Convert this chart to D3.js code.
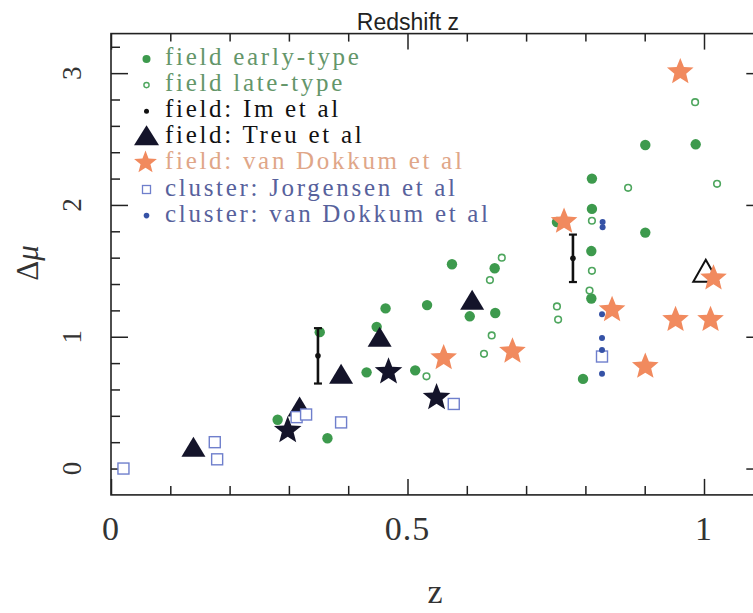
<!DOCTYPE html>
<html><head><meta charset="utf-8">
<script src="https://cdn.jsdelivr.net/npm/d3@7"></script>
<style>body{margin:0;background:#fff;} svg{display:block;}</style>
</head><body>
<svg id="c" width="753" height="613"></svg>
<script>
// ---------- data ----------
const earlyZ  = [0.281,0.352,0.365,0.431,0.448,0.463,0.513,0.533,0.575,0.605,0.647,0.648,0.752,0.796,0.810,0.810,0.811,0.811,0.901,0.901,0.986];
const earlyMu = [0.37, 1.035,0.23, 0.73, 1.075,1.215,0.745,1.24, 1.55, 1.155,1.52, 1.18, 1.87, 0.68, 1.29, 1.65, 1.97, 2.20, 2.455,1.79, 2.46];
const lateZ   = [0.532,0.629,0.639,0.642,0.659,0.752,0.754,0.807,0.811,0.811,0.872,0.985,1.022];
const lateMu  = [0.70, 0.87, 1.43, 1.01, 1.60, 1.23, 1.13, 1.35, 1.50, 1.88, 2.13, 2.78, 2.16];
const imZ     = [0.349,0.779];
const imMu    = [0.855,1.595];
const imErr   = [0.21,0.18];
const treuZ   = [0.139,0.318,0.388,0.453,0.609];
const treuMu  = [0.165,0.47, 0.72, 1.00, 1.28];
const openTriZ  = [1.003];
const openTriMu = [1.50];
const vdkZ    = [0.561,0.677,0.764,0.845,0.901,0.952,0.960,1.011,1.016];
const vdkMu   = [0.85, 0.90, 1.885,1.215,0.785,1.14, 3.02, 1.14, 1.455];
const blackStarZ  = [0.298,0.468,0.549];
const blackStarMu = [0.30, 0.745,0.55];
const jorgZ   = [0.021,0.175,0.179,0.313,0.329,0.388,0.578,0.828];
const jorgMu  = [0.00, 0.20, 0.07, 0.39, 0.41, 0.35, 0.49, 0.85];
const clusZ   = [0.829,0.829,0.828,0.828,0.828,0.828];
const clusMu  = [1.87, 1.83, 1.17, 0.99, 0.90, 0.72];
const legendLabels = ["field early-type","field late-type","field: Im et al","field: Treu et al","field: van Dokkum et al","cluster: Jorgensen et al","cluster: van Dokkum et al"];
const xTickLabels = ["0","0.5","1"];
const xTickValues = [0,0.5,1];
const yTickValues = [0,1,2,3];
const yTickLabels = ["0","1","2","3"];

// ---------- styles ----------
const C = {
  early:"#3d9a4d", late:"#4ea65e", tGreen:"#64966a",
  im:"#111111", treu:"#14142a",
  orange:"#f18a5e", tOrange:"#e0a688",
  square:"#6f7fcc", clus:"#3552a6", tBlue:"#57619c", axis:"#222"
};

const svg = d3.select("#c");
const x = d3.scaleLinear().domain([0,1.1]).range([111,763.3]);
const y = d3.scaleLinear().domain([-0.2,3.3]).range([494.9,33.6]);
const zip = (a,b)=>a.map((v,i)=>[v,b[i]]);

function starPath(R, r){
  const p=[];
  for(let i=0;i<10;i++){
    const a=-Math.PI/2+i*Math.PI/5, rad=i%2?r:R;
    p.push([rad*Math.cos(a), rad*Math.sin(a)+0.1*R]);
  }
  return "M"+p.map(q=>q[0].toFixed(2)+","+q[1].toFixed(2)).join("L")+"Z";
}
function triPath(w,h){ return `M0,${-h/2}L${w/2},${h/2}L${-w/2},${h/2}Z`; }

// ---------- frame & ticks ----------
const g = svg.append("g");
g.append("rect").attr("x",x(0)).attr("y",y(3.3)).attr("width",x(1.1)-x(0)).attr("height",y(-0.2)-y(3.3))
 .attr("fill","none").attr("stroke",C.axis).attr("stroke-width",1.6);

const xMinor = d3.range(1,11).map(i=>i/10).filter(v=>![0.5,1].includes(v));
const yMinor = d3.range(0,17).map(i=>+(i*0.2).toFixed(1)).filter(v=>!yTickValues.includes(v));

const bAxisMinor = d3.axisBottom(x).tickValues(xMinor).tickSize(-9).tickFormat("").tickSizeOuter(0);
const bAxisMajor = d3.axisBottom(x).tickValues(xTickValues).tickSize(-16).tickFormat("").tickSizeOuter(0);
const tAxisMinor = d3.axisTop(x).tickValues(xMinor).tickSize(-8).tickFormat("").tickSizeOuter(0);
const tAxisMajor = d3.axisTop(x).tickValues(xTickValues).tickSize(-16).tickFormat("").tickSizeOuter(0);
const lAxisMinor = d3.axisLeft(y).tickValues(yMinor).tickSize(-9).tickFormat("").tickSizeOuter(0);
const lAxisMajor = d3.axisLeft(y).tickValues(yTickValues).tickSize(-17).tickFormat("").tickSizeOuter(0);
const rAxisMinor = d3.axisRight(y).tickValues(yMinor).tickSize(-9).tickFormat("").tickSizeOuter(0);
const rAxisMajor = d3.axisRight(y).tickValues(yTickValues).tickSize(-17).tickFormat("").tickSizeOuter(0);
[[bAxisMinor,`translate(0,${y(-0.2)})`],[bAxisMajor,`translate(0,${y(-0.2)})`],
 [tAxisMinor,`translate(0,${y(3.3)})`],[tAxisMajor,`translate(0,${y(3.3)})`],
 [lAxisMinor,`translate(${x(0)},0)`],[lAxisMajor,`translate(${x(0)},0)`],
 [rAxisMinor,`translate(${x(1.1)},0)`],[rAxisMajor,`translate(${x(1.1)},0)`]].forEach(([ax,tr])=>{
  const a = g.append("g").attr("transform",tr).call(ax);
  a.select(".domain").remove();
  a.selectAll("line").attr("stroke",C.axis).attr("stroke-width",1.5);
});

// tick labels
g.selectAll(".xl").data(xTickValues).enter().append("text")
 .attr("x",d=>x(d)).attr("y",539.5).attr("text-anchor","middle")
 .attr("font-family","'Liberation Serif',serif").attr("font-size",34).attr("letter-spacing",1)
 .attr("fill","#333").text((d,i)=>xTickLabels[i]);
g.selectAll(".yl").data(yTickValues).enter().append("text")
 .attr("transform",d=>`translate(81,${y(d)}) rotate(-90)`).attr("text-anchor","middle")
 .attr("font-family","'Liberation Serif',serif").attr("font-size",27)
 .attr("fill","#333").text((d,i)=>yTickLabels[i]);

// axis titles
g.append("text").attr("x",(x(0)+x(1.1))/2-2).attr("y",603).attr("text-anchor","middle")
 .attr("font-family","'Liberation Serif',serif").attr("font-size",34).attr("fill","#333").text("z");
const yt = g.append("text").attr("transform",`translate(38,263) rotate(-90)`).attr("text-anchor","middle")
 .attr("font-family","'Liberation Serif',serif").attr("font-size",31).attr("fill","#333");
yt.append("tspan").text("Δ");
yt.append("tspan").attr("font-style","italic").text("μ");
g.append("text").attr("x",408).attr("y",30).attr("text-anchor","middle")
 .attr("font-family","'Liberation Sans',Arial,sans-serif").attr("font-size",23).attr("fill","#222").text("Redshift z");

// ---------- data marks ----------
const pts = svg.append("g");
pts.selectAll(".early").data(zip(earlyZ,earlyMu)).enter().append("circle")
 .attr("cx",d=>x(d[0])).attr("cy",d=>y(d[1])).attr("r",5.2).attr("fill",C.early);
pts.selectAll(".late").data(zip(lateZ,lateMu)).enter().append("circle")
 .attr("cx",d=>x(d[0])).attr("cy",d=>y(d[1])).attr("r",3.3).attr("fill","#fff")
 .attr("stroke",C.late).attr("stroke-width",1.6);
pts.selectAll(".otri").data(zip(openTriZ,openTriMu)).enter().append("path")
 .attr("transform",d=>`translate(${x(d[0])},${y(d[1])})`).attr("d",triPath(25,22))
 .attr("fill","none").attr("stroke","#111").attr("stroke-width",2);
pts.selectAll(".treu").data(zip(treuZ,treuMu)).enter().append("path")
 .attr("transform",d=>`translate(${x(d[0])},${y(d[1])})`).attr("d",triPath(24,20)).attr("fill",C.treu);
pts.selectAll(".bstar").data(zip(blackStarZ,blackStarMu)).enter().append("path")
 .attr("transform",d=>`translate(${x(d[0])},${y(d[1])})`).attr("d",starPath(14.5,6.2)).attr("fill",C.treu);
pts.selectAll(".jorg").data(zip(jorgZ,jorgMu)).enter().append("rect")
 .attr("x",d=>x(d[0])-5.5).attr("y",d=>y(d[1])-5.5).attr("width",11).attr("height",11)
 .attr("fill","#fff").attr("stroke",C.square).attr("stroke-width",1.4);
pts.selectAll(".vdk").data(zip(vdkZ,vdkMu)).enter().append("path")
 .attr("transform",d=>`translate(${x(d[0])},${y(d[1])})`).attr("d",starPath(14,6.2)).attr("fill",C.orange);
pts.selectAll(".clus").data(zip(clusZ,clusMu)).enter().append("circle")
 .attr("cx",d=>x(d[0])).attr("cy",d=>y(d[1])).attr("r",3).attr("fill",C.clus);
const im = pts.selectAll(".im").data(imZ.map((z,i)=>({z,mu:imMu[i],e:imErr[i]}))).enter().append("g");
im.append("line").attr("x1",d=>x(d.z)).attr("x2",d=>x(d.z)).attr("y1",d=>y(d.mu+d.e)).attr("y2",d=>y(d.mu-d.e))
 .attr("stroke",C.im).attr("stroke-width",2.6);
im.append("line").attr("x1",d=>x(d.z)-4).attr("x2",d=>x(d.z)+4).attr("y1",d=>y(d.mu+d.e)).attr("y2",d=>y(d.mu+d.e))
 .attr("stroke",C.im).attr("stroke-width",2.2);
im.append("line").attr("x1",d=>x(d.z)-4).attr("x2",d=>x(d.z)+4).attr("y1",d=>y(d.mu-d.e)).attr("y2",d=>y(d.mu-d.e))
 .attr("stroke",C.im).attr("stroke-width",2.2);
im.append("circle").attr("cx",d=>x(d.z)).attr("cy",d=>y(d.mu)).attr("r",2.8).attr("fill",C.im);

// ---------- legend ----------
const legColors = [C.tGreen,C.tGreen,"#111","#111",C.tOrange,C.tBlue,C.tBlue];
const lg = svg.append("g");
legendLabels.forEach((lab,i)=>{
  const by = 65 + i*26.1, cy = by-6, mx = 146.5;
  lg.append("text").attr("x",165).attr("y",by).attr("font-family","'Liberation Serif',serif")
    .attr("font-size",25).attr("letter-spacing",2.7).attr("fill",legColors[i]).text(lab);
  if(i===0) lg.append("circle").attr("cx",mx).attr("cy",cy).attr("r",4).attr("fill",C.early);
  if(i===1) lg.append("circle").attr("cx",mx).attr("cy",cy).attr("r",2.6).attr("fill","#fff").attr("stroke",C.late).attr("stroke-width",1.4);
  if(i===2) lg.append("circle").attr("cx",mx).attr("cy",cy).attr("r",2.5).attr("fill",C.im);
  if(i===3) lg.append("path").attr("transform",`translate(${mx},${cy-2})`).attr("d",triPath(25,20)).attr("fill",C.treu);
  if(i===4) lg.append("path").attr("transform",`translate(${mx-1},${cy-2})`).attr("d",starPath(12,5.2)).attr("fill",C.orange);
  if(i===5) lg.append("rect").attr("x",mx-4).attr("y",cy-4).attr("width",8).attr("height",8).attr("fill","#fff").attr("stroke",C.square).attr("stroke-width",1.3);
  if(i===6) lg.append("circle").attr("cx",mx).attr("cy",cy).attr("r",2.8).attr("fill",C.clus);
});
</script>
</body></html>
